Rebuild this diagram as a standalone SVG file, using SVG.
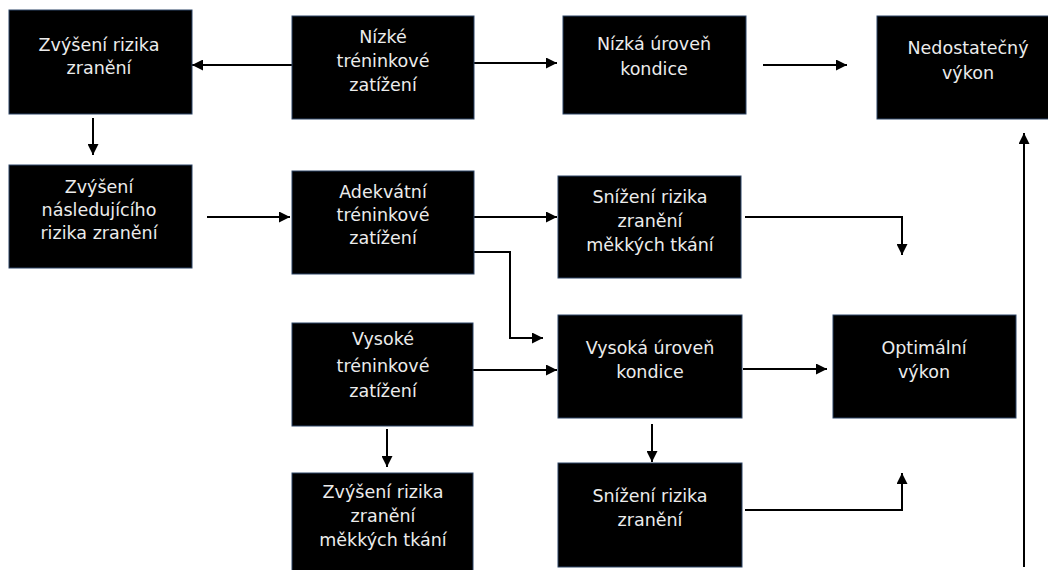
<svg xmlns="http://www.w3.org/2000/svg" width="1048" height="570" viewBox="0 0 1048 570">
<style>
.box{fill:#000;stroke:#2c4466;stroke-width:1}
.t{font-family:"DejaVu Sans","Open Sans",sans-serif;font-size:17.5px;fill:#ececec;text-anchor:middle;dominant-baseline:central}
.c{fill:none;stroke:#000;stroke-width:2;marker-end:url(#ah)}
</style>
<defs>
<marker id="ah" markerUnits="userSpaceOnUse" markerWidth="11" markerHeight="11" refX="11" refY="5.5" orient="auto" viewBox="0 0 11 11">
<path d="M0,0 L11,5.5 L0,11 Z" fill="#000"/>
</marker>
</defs>
<rect width="1048" height="570" fill="#fff"/>
<g id="connectors">
<path class="c" d="M292,65 H192"/>
<path class="c" d="M474,63 H557"/>
<path class="c" d="M763,65 H847"/>
<path class="c" d="M93,118 V155"/>
<path class="c" d="M207,217 H290"/>
<path class="c" d="M474,217 H557"/>
<path class="c" d="M745,217 H902 V255"/>
<path class="c" d="M474,252 H510 V338 H543"/>
<path class="c" d="M473,370 H557"/>
<path class="c" d="M387,429 V467"/>
<path class="c" d="M743,369 H827"/>
<path class="c" d="M652,424 V462"/>
<path class="c" d="M745,510 H902 V473"/>
<path class="c" d="M1024,567 V133"/>
</g>
<g id="n1"><rect class="box" x="9" y="10" width="183" height="104"/><text class="t" x="99" y="45">Zvýšení rizika</text><text class="t" x="99" y="68">zranění</text></g>
<g id="n2"><rect class="box" x="292" y="16" width="182" height="103"/><text class="t" x="383" y="37">Nízké</text><text class="t" x="383" y="61">tréninkové</text><text class="t" x="383" y="85">zatížení</text></g>
<g id="n3"><rect class="box" x="563" y="16" width="183" height="98"/><text class="t" x="654" y="44">Nízká úroveň</text><text class="t" x="654" y="69">kondice</text></g>
<g id="n4"><rect class="box" x="877" y="16" width="183" height="103"/><text class="t" x="968" y="48">Nedostatečný</text><text class="t" x="968" y="73">výkon</text></g>
<g id="n5"><rect class="box" x="9" y="165" width="183" height="103"/><text class="t" x="99" y="187">Zvýšení</text><text class="t" x="99" y="210">následujícího</text><text class="t" x="99" y="233">rizika zranění</text></g>
<g id="n6"><rect class="box" x="292" y="171" width="182" height="103"/><text class="t" x="383" y="192">Adekvátní</text><text class="t" x="383" y="215">tréninkové</text><text class="t" x="383" y="238">zatížení</text></g>
<g id="n7"><rect class="box" x="558" y="176" width="183" height="102"/><text class="t" x="650" y="197">Snížení rizika</text><text class="t" x="650" y="221">zranění</text><text class="t" x="650" y="245">měkkých tkání</text></g>
<g id="n8"><rect class="box" x="292" y="323" width="181" height="103"/><text class="t" x="383" y="339">Vysoké</text><text class="t" x="383" y="366">tréninkové</text><text class="t" x="383" y="391">zatížení</text></g>
<g id="n9"><rect class="box" x="558" y="315" width="184" height="103"/><text class="t" x="650" y="348">Vysoká úroveň</text><text class="t" x="650" y="372">kondice</text></g>
<g id="n10"><rect class="box" x="833" y="315" width="183" height="103"/><text class="t" x="924" y="348">Optimální</text><text class="t" x="924" y="372">výkon</text></g>
<g id="n11"><rect class="box" x="292" y="473" width="181" height="104"/><text class="t" x="383" y="492">Zvýšení rizika</text><text class="t" x="383" y="516">zranění</text><text class="t" x="383" y="540">měkkých tkání</text></g>
<g id="n12"><rect class="box" x="558" y="463" width="184" height="104"/><text class="t" x="650" y="496">Snížení rizika</text><text class="t" x="650" y="520">zranění</text></g>
</svg>
